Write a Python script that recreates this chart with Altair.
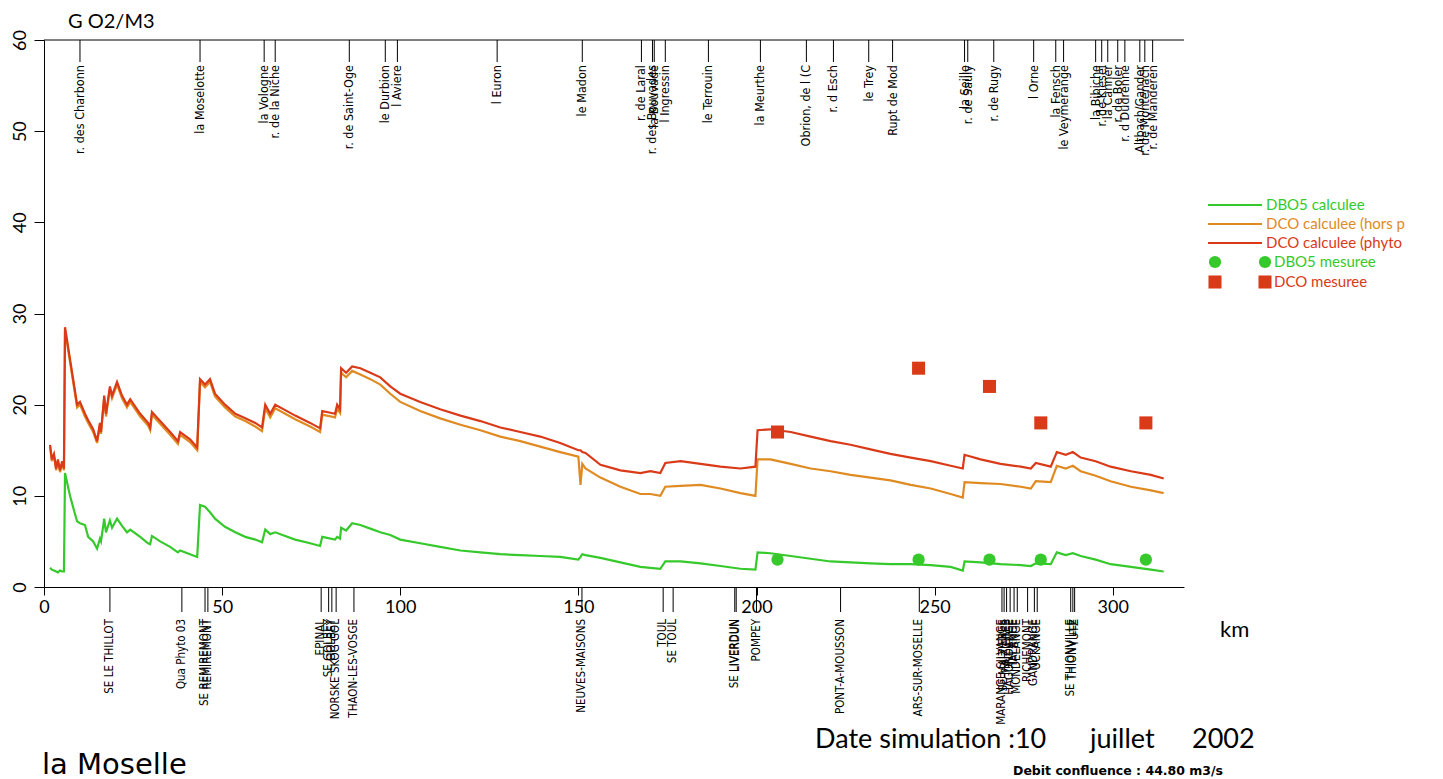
import altair as alt
import pandas as pd

# ---------------- data ----------------
km_calc = [1.7, 2.2, 2.8, 3.4, 3.9, 4.5, 5.1, 5.6, 5.9, 7.3, 8.7, 9.3, 10.1, 11.5, 12.4, 13.8, 14.9,
           15.7, 16.0, 16.9, 17.4, 18.5, 19.1, 20.5, 21.9, 23.3, 24.2, 27.0, 29.2, 29.8, 30.3, 32.6,
           35.4, 37.6, 38.2, 41.0, 43.0, 43.8, 45.2, 46.6, 48.0, 50.8, 53.7, 56.5, 59.3, 61.2, 62.1,
           63.5, 64.9, 67.7, 70.5, 74.7, 77.5, 78.1, 81.7, 82.3, 83.1, 83.4, 84.8, 86.5, 88.8, 91.6,
           94.4, 97.2, 100.0, 105.6, 111.2, 116.9, 122.5, 128.1, 133.7, 139.3, 144.9, 150.0, 150.6,
           151.1, 152.0, 156.2, 161.8, 167.4, 170.2, 173.0, 174.4, 178.7, 184.3, 189.9, 195.5, 199.7,
           200.3, 203.9, 209.6, 215.2, 220.8, 226.4, 232.0, 237.6, 243.3, 248.9, 254.5, 257.9, 258.4,
           262.9, 268.5, 274.2, 277.0, 278.4, 282.6, 284.3, 286.8, 288.8, 291.0, 295.2, 299.4, 305.1,
           310.7, 314.3]
dco_phyto = [15.6, 14.0, 14.6, 13.0, 14.0, 12.8, 13.8, 13.0, 28.5, 25.0, 21.5, 20.0, 20.3, 19.0, 18.3,
             17.3, 16.0, 18.0, 17.0, 21.0, 19.0, 22.0, 21.0, 22.5, 21.0, 20.0, 20.6, 19.0, 18.0, 17.5,
             19.2, 18.2, 17.0, 16.0, 17.0, 16.2, 15.3, 22.8, 22.2, 22.8, 21.2, 20.0, 19.0, 18.5, 18.0,
             17.5, 20.0, 19.0, 20.0, 19.4, 18.8, 18.0, 17.4, 19.3, 19.0, 20.0, 19.5, 24.0, 23.5, 24.2,
             24.0, 23.5, 23.0, 22.0, 21.2, 20.3, 19.5, 18.8, 18.2, 17.5, 17.0, 16.5, 15.8, 15.0, 15.0,
             14.8, 14.7, 13.4, 12.8, 12.5, 12.7, 12.5, 13.6, 13.8, 13.5, 13.2, 13.0, 13.2, 17.2, 17.3,
             17.0, 16.5, 16.0, 15.6, 15.1, 14.6, 14.2, 13.8, 13.3, 13.0, 14.5, 14.0, 13.5, 13.2, 13.0,
             13.6, 13.2, 14.8, 14.5, 14.8, 14.2, 13.8, 13.2, 12.7, 12.3, 11.9]
dco_hors_phyto = [15.4, 13.8, 14.4, 12.8, 13.8, 12.6, 13.6, 12.8, 28.2, 24.7, 21.2, 19.7, 20.0, 18.7,
                  18.0, 17.0, 15.8, 17.8, 16.8, 20.7, 18.7, 21.7, 20.7, 22.2, 20.7, 19.7, 20.3, 18.7,
                  17.7, 17.2, 18.9, 17.9, 16.7, 15.7, 16.7, 15.9, 15.0, 22.5, 21.9, 22.5, 20.9, 19.7,
                  18.7, 18.2, 17.6, 17.1, 19.6, 18.6, 19.6, 19.0, 18.4, 17.6, 17.0, 18.9, 18.6, 19.6,
                  19.1, 23.5, 23.0, 23.7, 23.3, 22.8, 22.2, 21.2, 20.3, 19.3, 18.5, 17.8, 17.2, 16.5,
                  16.0, 15.4, 14.8, 14.3, 11.2, 13.5, 13.0, 12.0, 11.0, 10.2, 10.2, 10.0, 11.0, 11.1,
                  11.2, 10.8, 10.3, 10.0, 14.0, 14.0, 13.5, 13.0, 12.7, 12.3, 12.0, 11.7, 11.2, 10.8,
                  10.2, 9.8, 11.5, 11.4, 11.3, 11.0, 10.8, 11.6, 11.5, 13.3, 13.0, 13.3, 12.7, 12.2,
                  11.6, 11.0, 10.6, 10.3]
dbo5_calc = [2.1, 1.9, 1.8, 1.7, 1.6, 1.8, 1.7, 1.7, 12.5, 10.0, 8.0, 7.2, 7.0, 6.8, 5.5, 5.0, 4.2,
             5.3, 5.0, 7.5, 6.0, 7.3, 6.5, 7.5, 6.7, 6.0, 6.3, 5.5, 4.8, 4.7, 5.6, 5.0, 4.4, 3.8, 4.0,
             3.6, 3.3, 9.0, 8.8, 8.2, 7.5, 6.6, 6.0, 5.5, 5.2, 4.9, 6.3, 5.8, 6.0, 5.6, 5.2, 4.8, 4.5,
             5.5, 5.2, 5.5, 5.3, 6.5, 6.2, 7.0, 6.8, 6.4, 6.0, 5.7, 5.2, 4.8, 4.4, 4.0, 3.8, 3.6, 3.5,
             3.4, 3.3, 3.0, 3.3, 3.6, 3.5, 3.2, 2.7, 2.2, 2.1, 2.0, 2.8, 2.8, 2.6, 2.3, 2.0, 1.9, 3.8,
             3.7, 3.4, 3.1, 2.8, 2.7, 2.6, 2.5, 2.5, 2.4, 2.2, 1.8, 2.8, 2.7, 2.5, 2.4, 2.3, 2.6, 2.5,
             3.8, 3.5, 3.7, 3.4, 3.0, 2.5, 2.2, 1.9, 1.7]

km_mesure = [205.9, 245.5, 265.4, 279.8, 309.3]
dbo5_mesure = [3.0, 3.0, 3.0, 3.0, 3.0]
dco_mesure = [17.0, 24.0, 22.0, 18.0, 18.0]

river_names = ["r. des Charbonn", "la Moselotte", "la Vologne", "r. de la Niche", "r. de Saint-Oge",
               "le Durbion", "l Aviere", "l Euron", "le Madon", "r. de Laral", "r. des Bouvades",
               "la Bouvade", "l Ingressin", "le Terrouin", "la Meurthe", "Obrion, de l (C", "r. d Esch",
               "le Trey", "Rupt de Mod", "la Seille", "r. de Sauly", "r. de Rugy", "l Orne",
               "la Fensch", "le Veymerange", "la Bibiche", "r. de Kiesel", "la Canner", "r. de Boler",
               "r. d Dudrenne", "Altbach/Gander", "r. de Montenach", "r. de Manderen"]
river_km = [10.1, 43.8, 61.8, 64.9, 85.7, 95.8, 99.2, 127.2, 151.1, 167.7, 170.8, 171.3, 174.4,
            186.5, 201.1, 214.0, 221.6, 231.5, 238.2, 258.4, 259.3, 266.6, 277.8, 284.0, 286.2,
            295.2, 296.9, 298.6, 301.4, 303.4, 307.6, 309.0, 311.2]

station_names = ["SE LE THILLOT", "Qua Phyto 03", "SE REMIREMONT", "REMIREMONT", "EPINAL",
                 "SE GOLBEY", "GOLBEY", "NORSKE SKOG GOL", "THAON-LES-VOSGE", "NEUVES-MAISONS",
                 "TOUL", "SE TOUL", "SE LIVERDUN", "LIVERDUN", "POMPEY", "PONT-A-MOUSSON",
                 "ARS-SUR-MOSELLE", "MARANGE-SILVANGE", "SE MAIZIERES", "MAIZIERES", "HAGONDANGE",
                 "TALANGE", "MONDELANGE", "RICHEMONT", "GANDRANGE", "UCKANGE", "SE THIONVILLE",
                 "THIONVILLE", "YUTZ"]
station_km = [18.5, 38.7, 45.2, 46.0, 77.8, 79.9, 80.8, 82.0, 87.0, 151.0, 173.8, 176.6, 193.9,
              194.3, 200.0, 223.6, 245.7, 268.9, 269.5, 270.2, 271.2, 272.3, 273.2, 276.1, 278.0,
              278.8, 288.2, 288.8, 289.3]

x_ticks = [0, 50, 100, 150, 200, 250, 300]
y_ticks = [0, 10, 20, 30, 40, 50, 60]

series_names = ["DBO5 calculee", "DCO calculee (hors p", "DCO calculee (phyto"]
mesure_names = ["DBO5 mesuree", "DCO mesuree"]

GREEN = "#36c92b"
ORANGE = "#e08a22"
RED = "#d93a18"
FONT = "Lato"
WIDE = "DejaVu Sans"
NARROW = "'Liberation Sans Narrow', 'DejaVu Sans Condensed', 'Arial Narrow', Lato, sans-serif"

W, H = 1140, 547

# ---------------- encodings ----------------
X = alt.X("km:Q", scale=alt.Scale(domain=[0, 320], nice=False, zero=False),
          axis=alt.Axis(values=x_ticks, title=None, grid=False, tickSize=8, labelFontSize=18,
                        labelPadding=3, labelFont=FONT, labelColor="black", domainColor="black",
                        tickColor="black", labelFlush=False, format="d"))
Y = alt.Y("val:Q", scale=alt.Scale(domain=[0, 60], nice=False, zero=False),
          axis=alt.Axis(values=y_ticks, title=None, grid=False, tickSize=10, labelFontSize=18,
                        labelPadding=5, labelFont=FONT, labelColor="black", labelAngle=270,
                        labelAlign="center", labelBaseline="bottom", domainColor="black",
                        tickColor="black", format="d"))

layers = []

# calculated lines
for name, vals, col in [(series_names[0], dbo5_calc, GREEN),
                        (series_names[1], dco_hors_phyto, ORANGE),
                        (series_names[2], dco_phyto, RED)]:
    df = pd.DataFrame({"km": km_calc, "val": vals, "serie": name})
    layers.append(alt.Chart(df).mark_line(color=col, strokeWidth=2.2).encode(x=X, y=Y))

# measured points
df_dbo = pd.DataFrame({"km": km_mesure, "val": dbo5_mesure})
df_dco = pd.DataFrame({"km": km_mesure, "val": dco_mesure})
layers.append(alt.Chart(df_dbo).mark_point(filled=True, shape="circle", size=150, color=GREEN,
                                           opacity=1).encode(x=X, y=Y))
layers.append(alt.Chart(df_dco).mark_point(filled=True, shape="square", size=170, color=RED,
                                           opacity=1).encode(x=X, y=Y))

# top frame line
frame = pd.DataFrame({"a": [0]})
layers.append(alt.Chart(frame).mark_rule(color="black", strokeWidth=1).encode(
    x=alt.value(0), x2=alt.value(W), y=alt.value(0)))

# rivers (top)
df_riv = pd.DataFrame({"km": river_km, "name": river_names})
layers.append(alt.Chart(df_riv).mark_rule(color="black", strokeWidth=1).encode(
    x=X, y=alt.value(0), y2=alt.value(22)))
layers.append(alt.Chart(df_riv).mark_text(angle=270, align="right", baseline="middle",
                                          fontSize=12.5, font=NARROW, color="black").encode(
    x=X, y=alt.value(25), text="name:N"))

# stations (bottom)
df_sta = pd.DataFrame({"km": station_km, "name": station_names})
layers.append(alt.Chart(df_sta).mark_rule(color="black", strokeWidth=1).encode(
    x=X, y=alt.value(H), y2=alt.value(H + 25)))
layers.append(alt.Chart(df_sta).mark_text(angle=270, align="right", baseline="middle",
                                          fontSize=11.5, font=NARROW, color="black").encode(
    x=X, y=alt.value(H + 32), text="name:N"))


def label(text, x, y, size, color="black", align="left", font=FONT, weight="normal",
          baseline="middle"):
    d = pd.DataFrame({"t": [text]})
    return alt.Chart(d).mark_text(align=align, baseline=baseline, fontSize=size, font=font,
                                  fontWeight=weight, color=color).encode(
        x=alt.value(x), y=alt.value(y), text="t:N")


layers.append(label("G O2/M3", 24, -12, 20, baseline="alphabetic"))
layers.append(label("km", 1176, 590, 22))
layers.append(label("Date simulation :10", 771, 700, 27))
layers.append(label("juillet", 1046, 700, 27))
layers.append(label("2002", 1148, 700, 27))
layers.append(label("la Moselle", -2, 725, 29, font=WIDE))
layers.append(label("Debit confluence :  44.80 m3/s", 969, 731, 12.5, font=WIDE, weight="bold"))

# legend
leg_cols = [GREEN, ORANGE, RED]
leg_y = [165, 184, 203]
for name, col, yy in zip(series_names, leg_cols, leg_y):
    d = pd.DataFrame({"t": [name]})
    layers.append(alt.Chart(d).mark_rule(color=col, strokeWidth=2).encode(
        x=alt.value(1164), x2=alt.value(1218), y=alt.value(yy)))
    layers.append(label(name, 1222, yy, 15, color=col))

for name, col, shp, yy, sz in [(mesure_names[0], GREEN, "circle", 222, 150),
                               (mesure_names[1], RED, "square", 242, 170)]:
    d = pd.DataFrame({"t": [name]})
    for xx in (1171, 1221):
        layers.append(alt.Chart(d).mark_point(filled=True, shape=shp, size=sz, color=col,
                                              opacity=1).encode(x=alt.value(xx), y=alt.value(yy)))
    layers.append(label(name, 1230, yy, 15, color=col))

chart = alt.layer(*layers).properties(
    width=W, height=H,
    autosize=alt.AutoSizeParams(type="none"),
    padding={"left": 36, "top": 32, "right": 240, "bottom": 196},
).configure_view(stroke=None)

chart.save("out.html", embed_options={"renderer": "svg", "actions": False})
